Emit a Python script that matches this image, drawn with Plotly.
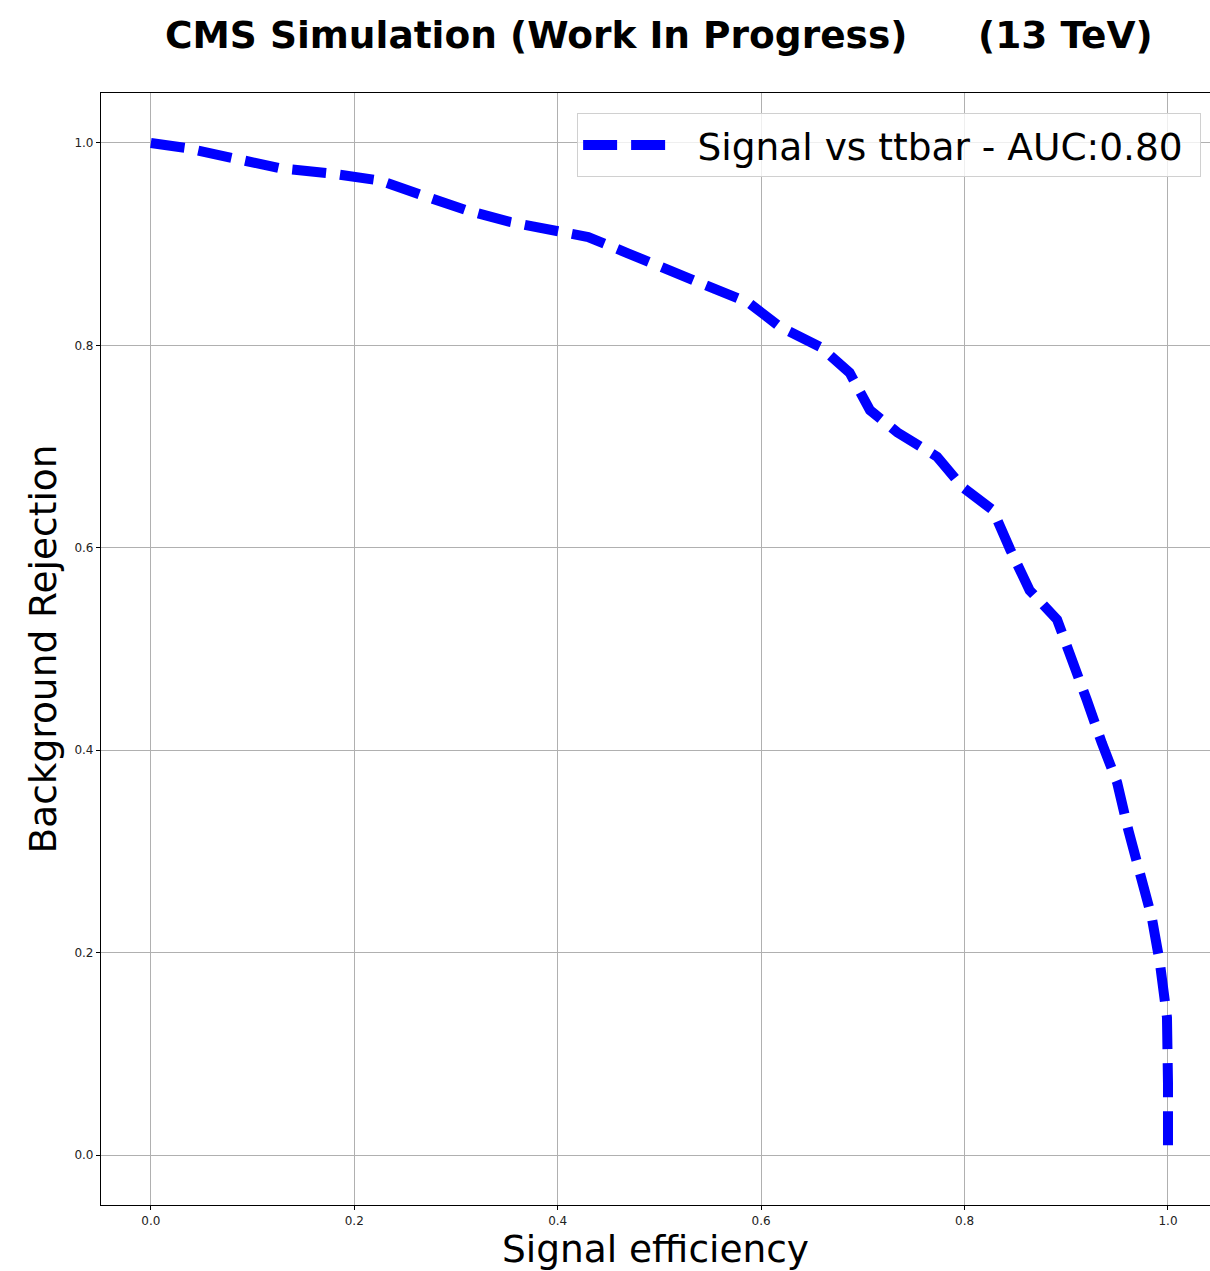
import plotly.graph_objects as go

# ROC curve
sig_eff = [0.000, 0.035, 0.081, 0.127, 0.176, 0.225, 0.265, 0.309, 0.353, 0.399,
           0.430, 0.469, 0.506, 0.548, 0.588, 0.619, 0.659, 0.687, 0.707, 0.734,
           0.773, 0.798, 0.828, 0.845, 0.864, 0.891, 0.907, 0.920, 0.935, 0.950,
           0.961, 0.972, 0.984, 0.992, 0.999, 1.000, 1.000]
bkg_rej = [1.000, 0.995, 0.985, 0.975, 0.970, 0.963, 0.949, 0.934, 0.922, 0.914,
           0.907, 0.891, 0.875, 0.858, 0.842, 0.818, 0.798, 0.773, 0.736, 0.714,
           0.690, 0.660, 0.637, 0.598, 0.558, 0.529, 0.489, 0.450, 0.407, 0.368,
           0.321, 0.275, 0.235, 0.190, 0.136, 0.071, 0.005]
series_name = "Signal vs ttbar - AUC:0.80"
tick_vals = [0.0, 0.2, 0.4, 0.6, 0.8, 1.0]
tick_text = ["0.0", "0.2", "0.4", "0.6", "0.8", "1.0"]

FONT = "DejaVu Sans"

fig = go.Figure()
fig.add_trace(go.Scatter(
    x=sig_eff, y=bkg_rej, mode="lines", name="\u00a0\u2009" + series_name + "\u00a0",
    line=dict(color="#0000ff", width=10, dash="34px,14px"),
))

axis_common = dict(
    showgrid=True, gridcolor="#b0b0b0", gridwidth=1,
    zeroline=False, showline=True, linecolor="black", linewidth=1.2,
    ticks="outside", ticklen=4, tickcolor="black", tickwidth=1,
    tickvals=tick_vals, ticktext=tick_text,
    tickfont=dict(family=FONT, size=12, color="#222"),
)

fig.update_xaxes(**axis_common, range=[-0.049, 1.0413], mirror=True,
                 title=dict(text="Signal efficiency", font=dict(family=FONT, size=37.5, color="black"),
                            standoff=0))
fig.update_yaxes(**axis_common, range=[-0.0494, 1.0494], mirror=False,
                 title=dict(text="Background Rejection", font=dict(family=FONT, size=37.5, color="black"),
                            standoff=6))

fig.add_annotation(text="<b>CMS Simulation (Work In Progress)</b>", xref="paper", yref="paper",
                   x=(163 - 101) / 1109, y=1 + (93 - 35) / 1112, xanchor="left", yanchor="middle",
                   showarrow=False, font=dict(family=FONT, size=37.5, color="black"))
fig.add_annotation(text="<b>(13 TeV)</b>", xref="paper", yref="paper",
                   x=(1155 - 101) / 1109, y=1 + (93 - 35) / 1112, xanchor="right", yanchor="middle",
                   showarrow=False, font=dict(family=FONT, size=37.5, color="black"))

fig.update_layout(
    width=1210, height=1271,
    margin=dict(l=101, r=0, t=93, b=66),
    paper_bgcolor="white", plot_bgcolor="white",
    showlegend=True,
    legend=dict(x=0.992, y=0.982, xanchor="right", yanchor="top",
                bgcolor="rgba(255,255,255,0.8)", bordercolor="#d0d0d0", borderwidth=1,
                font=dict(family=FONT, size=37.5, color="black"),
                itemwidth=90),
    font=dict(family=FONT),
)

fig.write_html("out.html", config={"displayModeBar": False},
               post_script="document.body.style.margin='0';document.body.style.overflow='hidden';")
